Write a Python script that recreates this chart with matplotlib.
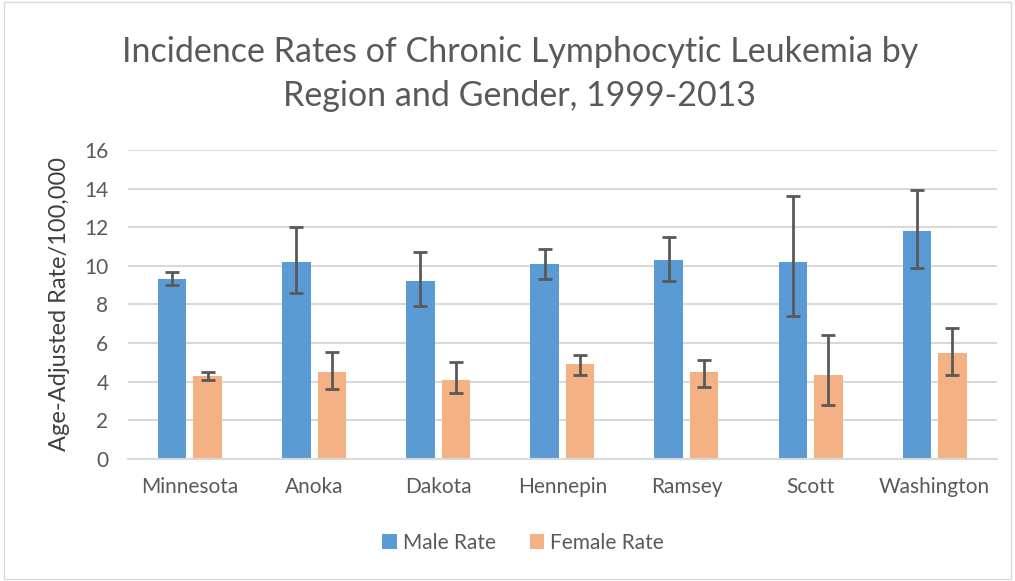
import numpy as np
import matplotlib.pyplot as plt
from matplotlib.patches import Rectangle

plt.rcParams['font.family'] = ['Lato', 'DejaVu Sans']

# data
regions = ['Minnesota', 'Anoka', 'Dakota', 'Hennepin', 'Ramsey', 'Scott', 'Washington']
male_rate = [9.3, 10.2, 9.2, 10.1, 10.3, 10.2, 11.8]
male_lo = [9.0, 8.6, 7.9, 9.3, 9.2, 7.4, 9.9]
male_hi = [9.7, 12.0, 10.7, 10.85, 11.5, 13.6, 13.9]
female_rate = [4.3, 4.5, 4.1, 4.9, 4.5, 4.35, 5.5]
female_lo = [4.1, 3.6, 3.4, 4.35, 3.75, 2.8, 4.35]
female_hi = [4.5, 5.55, 5.0, 5.4, 5.1, 6.4, 6.8]

blue = '#5B9BD5'
orange = '#F4B183'
grey_txt = '#595959'
err_col = '#595959'

fig = plt.figure(figsize=(10.15, 5.81), dpi=100)
ax = fig.add_axes([0.126, 0.210, 0.856, 0.532])

x = np.arange(len(regions))
w = 0.23
off = 0.143

m = np.array(male_rate)
f = np.array(female_rate)
m_err = [m - np.array(male_lo), np.array(male_hi) - m]
f_err = [f - np.array(female_lo), np.array(female_hi) - f]

ax.bar(x - off, m, w, color=blue, label='Male Rate', zorder=2)
ax.bar(x + off, f, w, color=orange, label='Female Rate', zorder=2)
ax.errorbar(x - off, m, yerr=m_err, fmt='none', ecolor=err_col, elinewidth=2, capsize=5, capthick=2, zorder=3)
ax.errorbar(x + off, f, yerr=f_err, fmt='none', ecolor=err_col, elinewidth=2, capsize=5, capthick=2, zorder=3)

ax.set_xlim(-0.5, len(regions) - 0.5)
ax.set_ylim(0, 16)
ax.set_yticks(range(0, 17, 2))
ax.set_xticks(x)
ax.set_xticklabels(regions)
ax.yaxis.grid(True, color='#d9d9d9', linewidth=1.5, zorder=0)
ax.set_axisbelow(True)
for s in ['top', 'right', 'left']:
    ax.spines[s].set_visible(False)
ax.spines['bottom'].set_color('#d9d9d9')
ax.spines['bottom'].set_linewidth(1.5)
ax.tick_params(length=0, labelsize=15, labelcolor=grey_txt)
ax.tick_params(axis='x', pad=13)
ax.tick_params(axis='y', pad=14)

ax.set_ylabel('Age-Adjusted Rate/100,000', fontsize=17, color='#404040', labelpad=10)

fig.text(0.512, 0.873, 'Incidence Rates of Chronic Lymphocytic Leukemia by\nRegion and Gender, 1999-2013',
         ha='center', va='center', fontsize=24.5, color=grey_txt, linespacing=1.45)

ax.legend(loc='center', bbox_to_anchor=(0.455, -0.272), ncol=2, frameon=False, fontsize=15,
          handlelength=0.7, handleheight=0.7, handletextpad=0.3, columnspacing=1.6,
          labelcolor=grey_txt)

fig.patches.append(Rectangle((0.004, 0.004), 0.992, 0.992, transform=fig.transFigure,
                             fill=False, edgecolor='#d9d9d9', linewidth=1))

fig.savefig('out.png', dpi=100)
